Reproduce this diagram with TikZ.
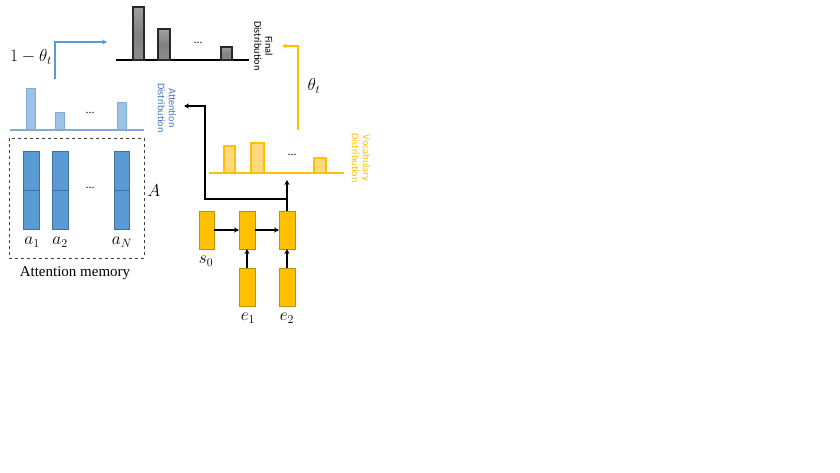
\documentclass[tikz,border=0pt]{standalone}
\usepackage{fontspec}
\setmainfont{Liberation Serif}
\newfontfamily\labelfont{Carlito}
\usetikzlibrary{arrows.meta}
\definecolor{grayfill}{RGB}{128,128,128}
\definecolor{grayedge}{RGB}{40,40,40}
\definecolor{lbfill}{RGB}{157,195,230}
\definecolor{lbedge}{RGB}{127,170,220}
\definecolor{bluefill}{RGB}{91,155,213}
\definecolor{blueedge}{RGB}{65,113,156}
\definecolor{goldfill}{RGB}{255,192,0}
\definecolor{goldedge}{RGB}{191,144,0}
\definecolor{lgfill}{RGB}{255,217,128}
\definecolor{lgedge}{RGB}{255,192,0}
\definecolor{bluetext}{RGB}{68,114,196}
\definecolor{bluearrow}{RGB}{91,155,213}
\begin{document}
\begin{tikzpicture}[x=1pt,y=-1pt,
  bar/.style={rectangle, inner sep=0pt, outer sep=0pt, anchor=south, line width=1pt},
  graybar/.style={bar, draw=grayedge, line width=1.2pt, top color=gray!75, bottom color=gray!110!black, middle color=grayfill},
  lbbar/.style={bar, draw=lbedge, fill=lbfill},
  lgbar/.style={bar, draw=lgedge, fill=lgfill, line width=1.2pt},
  memcol/.style={rectangle, inner sep=0pt, outer sep=0pt, draw=blueedge, fill=bluefill, line width=0.6pt, minimum width=16pt, minimum height=39pt, anchor=north west},
  cell/.style={rectangle, inner sep=0pt, outer sep=0pt, draw=goldedge, fill=goldfill, line width=0.6pt, minimum width=16pt, minimum height=38pt, anchor=north west},
  base/.style={line width=1.3pt},
  conn/.style={line width=1.4pt, -{Stealth[length=5pt,width=5pt]}},
  txt/.style={font=\fontsize{15}{18}\selectfont, inner sep=0pt},
  mth/.style={font=\fontsize{17}{20}\selectfont, inner sep=0pt},
  small/.style={font=\labelfont\fontsize{10.3}{11}\selectfont, align=center, rotate=-90, inner sep=0pt},
  dots/.style={font=\fontsize{12}{12}\selectfont, inner sep=0pt}
]
\useasboundingbox (0,0) rectangle (840,473);

% ---------- final distribution ----------
\coordinate (fbL) at (116,60);
\coordinate (fbR) at (249,60);
\draw[base,black] (fbL) -- (fbR);
\node[graybar, minimum width=11pt, minimum height=53pt] (f1) at (138.5,60) {};
\node[graybar, minimum width=12pt, minimum height=31pt] (f2) at (164,60) {};
\node[graybar, minimum width=11pt, minimum height=13pt] (f3) at (226.5,60) {};
\node[dots] (fdots) at (198,43) {...};
\node[small] (ftext) at (263.5,46) {Final\\Distribution};

% ---------- attention distribution ----------
\coordinate (abL) at (10,130);
\coordinate (abR) at (144,130);
\draw[base,lbedge] (abL) -- (abR);
\node[lbbar, minimum width=9pt, minimum height=41pt] (ad1) at (30.5,130) {};
\node[lbbar, minimum width=9pt, minimum height=17pt] (ad2) at (59.5,130) {};
\node[lbbar, minimum width=9pt, minimum height=27pt] (ad3) at (121.5,130) {};
\node[dots] (adots) at (90,113) {...};
\node[small, text=bluetext] (atext) at (167,108) {Attention\\Distribution};

% ---------- vocabulary distribution ----------
\coordinate (vbL) at (209,173);
\coordinate (vbR) at (344,173);
\draw[base,lgedge] (vbL) -- (vbR);
\node[lgbar, minimum width=11pt, minimum height=27pt] (v1) at (229.5,173) {};
\node[lgbar, minimum width=13pt, minimum height=30pt] (v2) at (257.5,173) {};
\node[lgbar, minimum width=12pt, minimum height=15pt] (v3) at (320,173) {};
\node[dots] (vdots) at (292,155) {...};
\node[small, text=goldfill] (vtext) at (361,158) {Vocabulary\\Distribution};

% ---------- attention memory ----------
\node[rectangle, draw=black!75, dashed, line width=0.8pt, inner sep=0pt, outer sep=0pt,
      minimum width=135pt, minimum height=120pt, anchor=north west] (mem) at (9,138) {};
\node[memcol] (c1a) at (23,151) {};
\node[memcol] (c1b) at (23,190) {};
\node[memcol] (c2a) at (52,151) {};
\node[memcol] (c2b) at (52,190) {};
\node[memcol, minimum width=15pt] (c3a) at (114,151) {};
\node[memcol, minimum width=15pt] (c3b) at (114,190) {};
\node[dots] (mdots) at (90,188) {...};
\node[mth] (la1) at (32,242) {$a_1$};
\node[mth] (la2) at (60,242) {$a_2$};
\node[mth] (laN) at (122,242) {$a_N$};
\node[mth] (lA) at (154,191) {$A$};
\node[txt] (lmem) at (75,273) {Attention memory};

% ---------- RNN ----------
\node[cell, minimum width=15pt] (s0) at (199,211) {};
\node[cell] (h1) at (239,211) {};
\node[cell] (h2) at (279,211) {};
\node[cell] (e1) at (239,268) {};
\node[cell] (e2) at (279,268) {};
\node[mth] (ls0) at (206,261) {$s_0$};
\node[mth] (le1) at (248,318) {$e_1$};
\node[mth] (le2) at (287,318) {$e_2$};

\draw[conn] (s0.east) -- (h1.west);
\draw[conn] (h1.east) -- (h2.west);
\draw[conn] (e1.north) -- (h1.south);
\draw[conn] (e2.north) -- (h2.south);
\coordinate (vin) at (287,180);
\draw[conn] (h2.north) -- (vin);
\coordinate (br) at (287,199);
\coordinate (atip) at (184,106);
\draw[conn] (br) -- (205,199) |- (atip);

% ---------- mixing arrows ----------
\coordinate (bstart) at (55,79);
\coordinate (btip) at (107,42);
\draw[conn, bluearrow] (bstart) |- (btip);
\node[mth] (l1mt) at (31,57) {$1-\theta_t$};

\coordinate (ostart) at (298,130);
\coordinate (otip) at (282,46);
\draw[conn, goldfill] (ostart) |- (otip);
\node[mth] (lth) at (314,86) {$\theta_t$};
\end{tikzpicture}
\end{document}
